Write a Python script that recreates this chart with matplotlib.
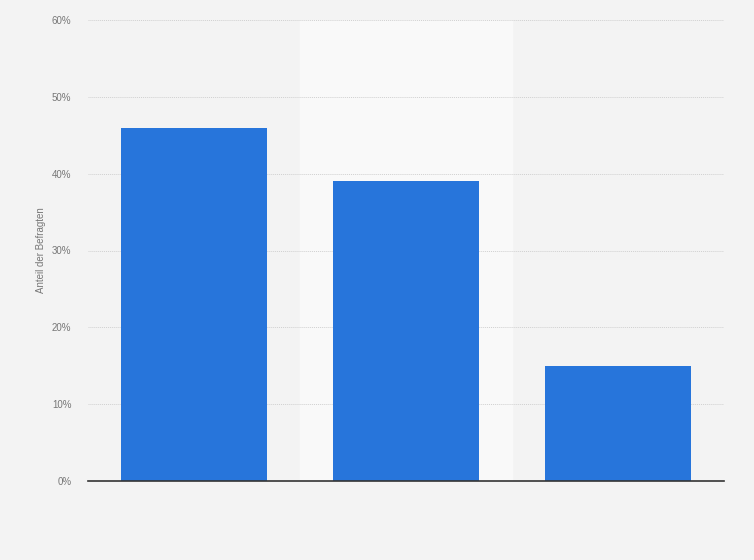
import numpy as np
import matplotlib.pyplot as plt
from matplotlib.ticker import FuncFormatter

# Data
categories = ['', '', '']
values = [46, 39, 15]
y_ticks = [0, 10, 20, 30, 40, 50, 60]

plt.rcParams['font.family'] = ['Liberation Sans', 'DejaVu Sans']

fig = plt.figure(figsize=(7.54, 5.6), dpi=100)
fig.patch.set_facecolor('#f3f3f3')
ax = fig.add_axes([88 / 754, 79 / 560, 636 / 754, 461 / 560])
ax.set_facecolor('#f3f3f3')

x = np.arange(len(values))
# lighter band behind the middle category
ax.axvspan(0.5, 1.5, color='#f9f9f9', zorder=0)
ax.bar(x, values, width=0.69, color='#2775db', zorder=3)

ax.set_xlim(-0.5, len(values) - 0.5)
ax.set_ylim(0, 60)
ax.set_yticks(y_ticks)
ax.yaxis.set_major_formatter(FuncFormatter(lambda v, p: f'{v:.0f}%'))
ax.set_xticks(x)
ax.set_xticklabels(categories)
ax.tick_params(axis='both', length=0, labelsize=7, colors='#777777', pad=12)

ax.grid(axis='y', color='#d0d0d0', linestyle=(0, (1, 1)), linewidth=0.7, zorder=1)
for side in ['top', 'right', 'left']:
    ax.spines[side].set_visible(False)
ax.spines['bottom'].set_color('#333333')
ax.spines['bottom'].set_linewidth(1.2)
ax.spines['bottom'].set_zorder(4)

ax.set_ylabel('Anteil der Befragten', fontsize=7, color='#777777', labelpad=4)

fig.savefig('out.png', dpi=100, facecolor=fig.get_facecolor())
